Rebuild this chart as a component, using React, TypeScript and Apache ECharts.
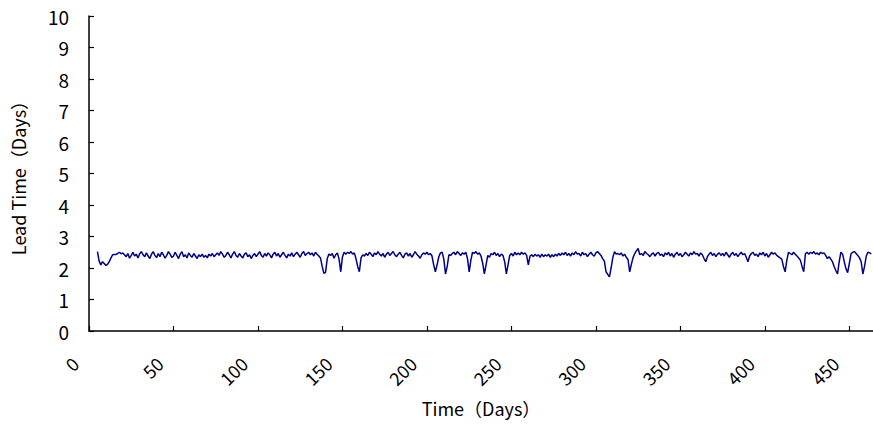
import React, { useEffect, useRef } from "react";
import * as echarts from "echarts";

const startDay = 5;
const xTicks = [0, 50, 100, 150, 200, 250, 300, 350, 400, 450];
const yTicks = [0, 1, 2, 3, 4, 5, 6, 7, 8, 9, 10];
const leadTime = [
  2.52, 2.22, 2.10, 2.20, 2.14, 2.08, 2.12, 2.20, 2.32, 2.42,
  2.43, 2.43, 2.46, 2.50, 2.45, 2.48, 2.42, 2.36, 2.46, 2.31,
  2.40, 2.50, 2.38, 2.44, 2.32, 2.45, 2.52, 2.42, 2.36, 2.48,
  2.38, 2.30, 2.44, 2.52, 2.40, 2.33, 2.46, 2.36, 2.50, 2.42,
  2.31, 2.40, 2.52, 2.44, 2.34, 2.38, 2.50, 2.40, 2.30, 2.44,
  2.52, 2.36, 2.42, 2.32, 2.48, 2.40, 2.34, 2.46, 2.38, 2.30,
  2.42, 2.36, 2.44, 2.34, 2.40, 2.32, 2.44, 2.38, 2.46, 2.36,
  2.42, 2.48, 2.40, 2.52, 2.44, 2.34, 2.40, 2.50, 2.42, 2.32,
  2.44, 2.52, 2.40, 2.34, 2.46, 2.38, 2.32, 2.44, 2.48, 2.36,
  2.42, 2.30, 2.40, 2.46, 2.36, 2.44, 2.52, 2.40, 2.34, 2.46,
  2.38, 2.48, 2.42, 2.32, 2.44, 2.50, 2.38, 2.46, 2.34, 2.42,
  2.50, 2.40, 2.32, 2.44, 2.38, 2.48, 2.36, 2.44, 2.50, 2.42,
  2.34, 2.46, 2.52, 2.40, 2.46, 2.50, 2.42, 2.48, 2.38, 2.50,
  2.44, 2.38, 2.32, 2.05, 1.83, 1.86, 2.30, 2.44, 2.40, 2.46,
  2.31, 2.42, 2.48, 2.28, 1.88, 2.35, 2.50, 2.44, 2.50, 2.46,
  2.52, 2.44, 2.48, 2.30, 2.05, 1.88, 2.32, 2.42, 2.38, 2.46,
  2.40, 2.50, 2.44, 2.36, 2.48, 2.42, 2.52, 2.44, 2.38, 2.46,
  2.34, 2.44, 2.50, 2.40, 2.46, 2.52, 2.42, 2.36, 2.44, 2.50,
  2.40, 2.32, 2.44, 2.48, 2.38, 2.46, 2.34, 2.42, 2.52, 2.44,
  2.38, 2.31, 2.42, 2.48, 2.44, 2.50, 2.42, 2.46, 2.38, 2.10,
  1.88, 2.10, 2.35, 2.48, 2.50, 2.28, 1.81, 2.05, 2.42, 2.40,
  2.46, 2.50, 2.42, 2.52, 2.46, 2.40, 2.48, 2.44, 2.50, 2.30,
  1.88, 2.25, 2.50, 2.46, 2.52, 2.44, 2.48, 2.38, 2.15, 1.81,
  2.10, 2.40, 2.34, 2.46, 2.42, 2.50, 2.40, 2.46, 2.36, 2.44,
  2.40, 2.20, 1.81, 2.10, 2.40, 2.46, 2.38, 2.50, 2.42, 2.48,
  2.42, 2.50, 2.44, 2.48, 2.40, 2.10, 2.38, 2.42, 2.36, 2.44,
  2.38, 2.42, 2.34, 2.44, 2.36, 2.42, 2.38, 2.44, 2.34, 2.42,
  2.36, 2.44, 2.38, 2.46, 2.40, 2.48, 2.42, 2.50, 2.40, 2.46,
  2.38, 2.48, 2.42, 2.52, 2.44, 2.46, 2.38, 2.50, 2.42, 2.46,
  2.36, 2.44, 2.50, 2.42, 2.38, 2.48, 2.52, 2.46, 2.40, 2.30,
  2.22, 1.88, 1.80, 1.72, 2.00, 2.33, 2.52, 2.44, 2.46, 2.42,
  2.48, 2.38, 2.44, 2.34, 2.27, 1.88, 2.12, 2.33, 2.46, 2.55,
  2.62, 2.42, 2.46, 2.40, 2.52, 2.46, 2.42, 2.36, 2.44, 2.48,
  2.38, 2.46, 2.50, 2.40, 2.44, 2.36, 2.48, 2.42, 2.50, 2.38,
  2.46, 2.34, 2.44, 2.50, 2.40, 2.46, 2.36, 2.42, 2.50, 2.44,
  2.38, 2.48, 2.42, 2.52, 2.44, 2.46, 2.38, 2.48, 2.42, 2.30,
  2.20, 2.36, 2.44, 2.50, 2.40, 2.46, 2.36, 2.44, 2.48, 2.40,
  2.46, 2.38, 2.50, 2.42, 2.34, 2.44, 2.50, 2.40, 2.46, 2.36,
  2.44, 2.50, 2.42, 2.46, 2.34, 2.20, 2.38, 2.46, 2.50, 2.40,
  2.44, 2.36, 2.48, 2.42, 2.50, 2.38, 2.46, 2.34, 2.42, 2.50,
  2.44, 2.48, 2.40, 2.36, 2.32, 2.28, 2.05, 1.88, 2.25, 2.50,
  2.46, 2.42, 2.50, 2.44, 2.38, 2.32, 2.25, 2.05, 1.88, 2.45,
  2.50, 2.44, 2.50, 2.46, 2.52, 2.44, 2.48, 2.42, 2.50, 2.46,
  2.48, 2.40, 2.30, 2.36, 2.28, 2.20, 2.05, 1.92, 1.81, 2.20,
  2.50, 2.44, 2.20, 1.98, 1.85, 2.15, 2.45, 2.50, 2.52, 2.46,
  2.40, 2.32, 2.20, 1.81, 2.05, 2.38, 2.50, 2.48, 2.45,
];

const FONT = "'Noto Sans CJK JP', 'Noto Sans', sans-serif";

export default function App() {
  const ref = useRef<HTMLDivElement>(null);
  useEffect(() => {
    if (!ref.current) return;
    const chart = echarts.init(ref.current, undefined, { renderer: "svg" });
    const data = leadTime.map((v, i) => [startDay + i, v]);
    chart.setOption({
      animation: false,
      backgroundColor: "#ffffff",
      grid: { left: 89, right: 0, top: 16, bottom: 96, containLabel: false },
      xAxis: {
        type: "value",
        min: 0,
        max: 464,
        interval: 50,
        name: "Time（Days）",
        nameLocation: "middle",
        nameGap: 68,
        nameTextStyle: { color: "#000", fontSize: 18, fontFamily: FONT },
        axisLine: { show: true, onZero: false, lineStyle: { color: "#000", width: 1.5 } },
        axisTick: { show: true, inside: true, length: 5, lineStyle: { color: "#000", width: 1.2 } },
        splitLine: { show: false },
        axisLabel: {
          rotate: 45,
          margin: 15,
          padding: [0, 20, 0, 0],
          color: "#000",
          fontSize: 18,
          fontFamily: FONT,
          showMaxLabel: false,
          formatter: (v: number) => (xTicks.includes(v) ? String(v) : ""),
        },
      },
      yAxis: {
        type: "value",
        min: 0,
        max: 10,
        interval: 1,
        name: "Lead Time（Days）",
        nameLocation: "middle",
        nameGap: 62,
        nameTextStyle: { color: "#000", fontSize: 18, fontFamily: FONT },
        axisLine: { show: true, lineStyle: { color: "#000", width: 1.5 } },
        axisTick: { show: true, inside: true, length: 5, lineStyle: { color: "#000", width: 1.2 } },
        splitLine: { show: false },
        axisLabel: {
          margin: 20,
          color: "#000",
          fontSize: 19,
          fontFamily: FONT,
          formatter: (v: number) => (yTicks.includes(v) ? String(v) : ""),
        },
      },
      series: [
        {
          type: "line",
          data,
          showSymbol: false,
          symbol: "none",
          lineStyle: { color: "#00008b", width: 1.5 },
        },
      ],
    });
    return () => chart.dispose();
  }, []);
  return (
    <div
      ref={ref}
      style={{ position: "fixed", left: 0, top: 0, width: 873, height: 427, background: "#fff" }}
    />
  );
}
